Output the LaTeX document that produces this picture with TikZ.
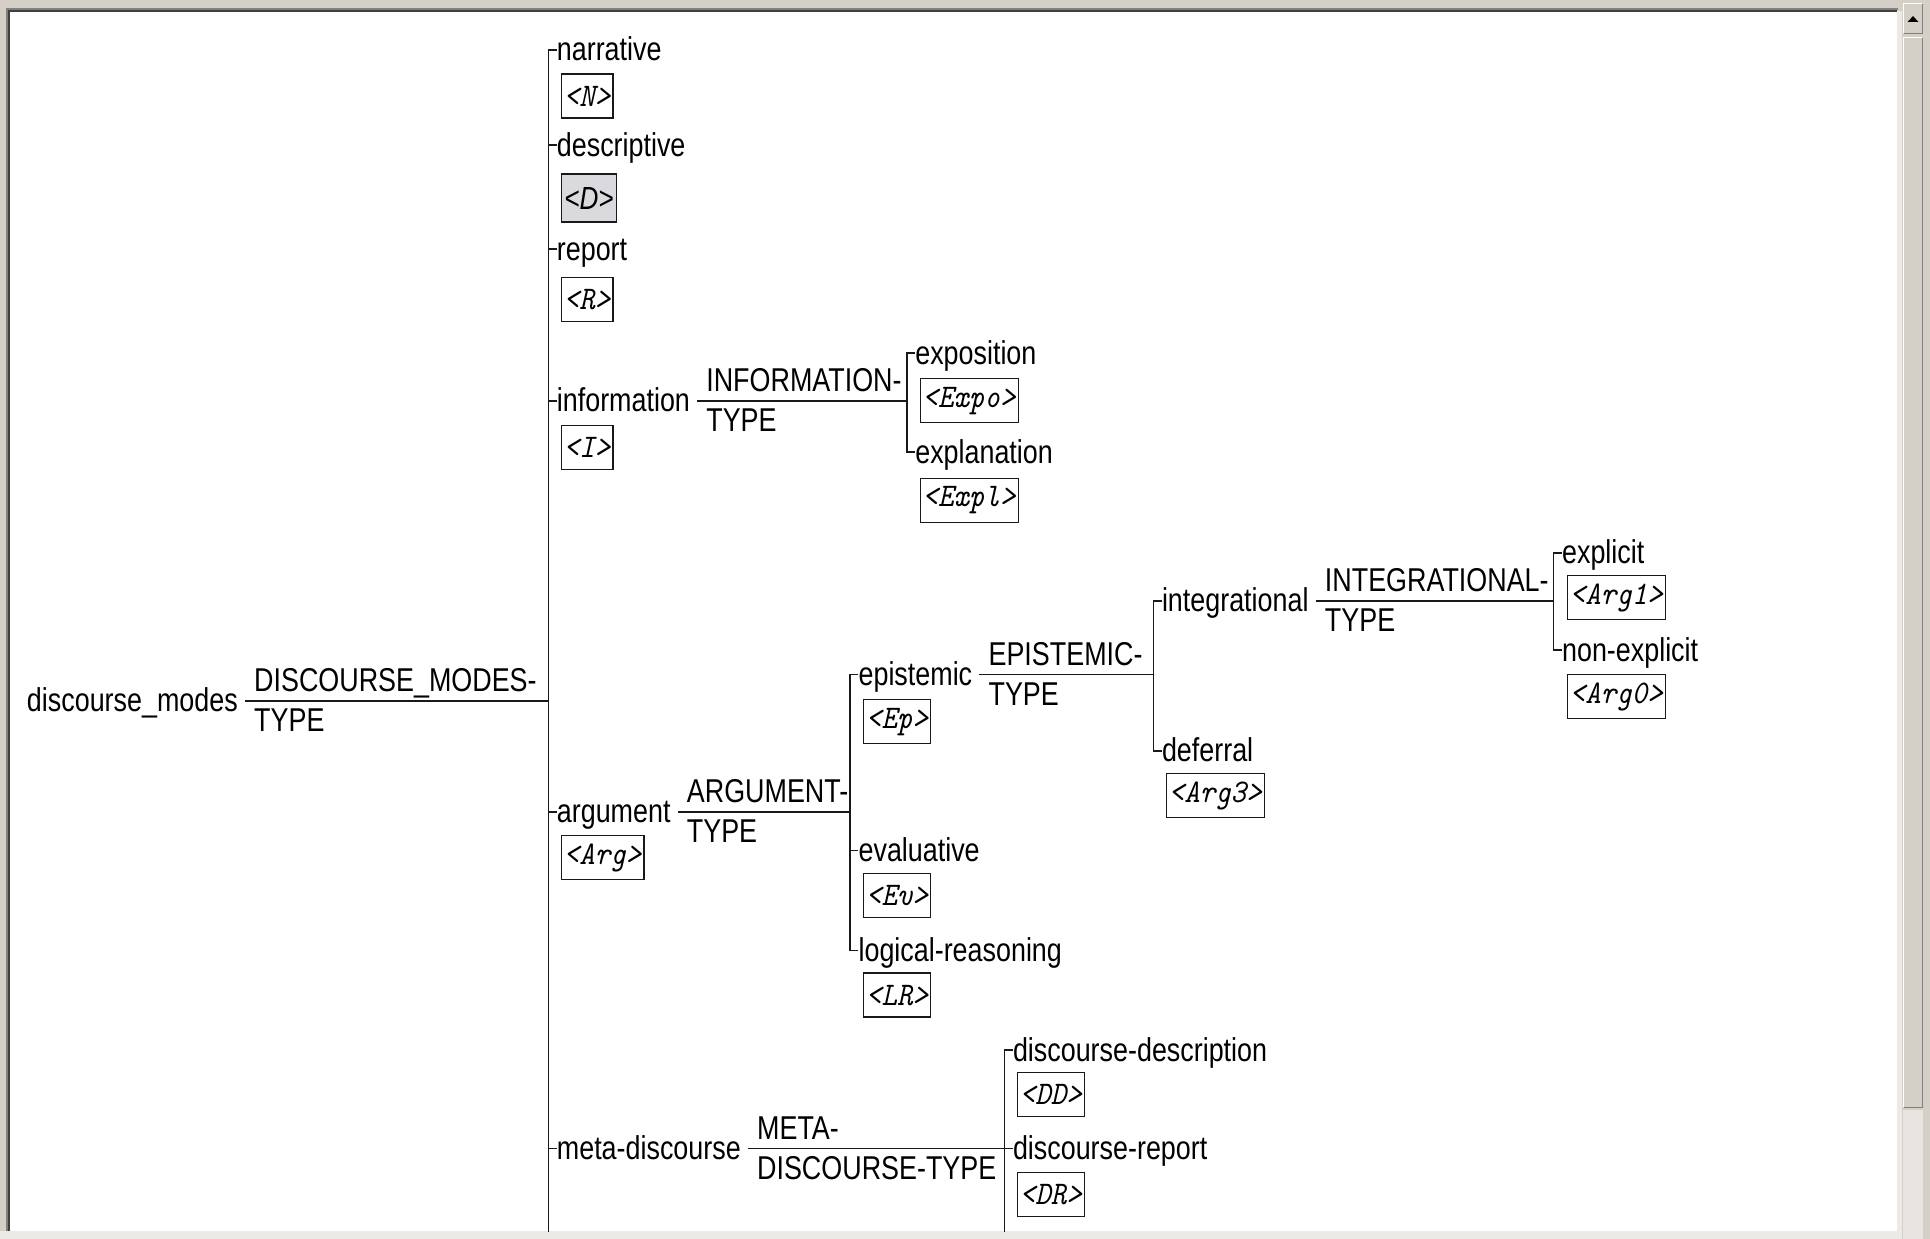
\documentclass[tikz,border=0pt]{standalone}
\usepackage{fontspec}
\newfontfamily\lblfont{Liberation Sans}[FakeStretch=0.815]
\newfontfamily\tagfnt{Latin Modern Mono}[FakeStretch=0.895]
\definecolor{wingrey}{RGB}{212,208,200}
\definecolor{selgrey}{RGB}{218,218,222}
\definecolor{linec}{RGB}{25,25,25}
\definecolor{darkedge}{RGB}{64,64,64}
\definecolor{midedge}{RGB}{128,128,128}
\definecolor{lightstrip}{RGB}{236,234,230}
\definecolor{trough}{RGB}{232,229,224}
\begin{document}
\begin{tikzpicture}[x=1pt,y=-1pt,
  lbl/.style={font=\lblfont\fontsize{33}{40}\selectfont, inner sep=0pt, anchor=base west},
  typelbl/.style={lbl, align=left},
  tagbox/.style={draw=linec, line width=1.4pt, font=\tagfnt\itshape\fontsize{33}{36}\selectfont,
    inner xsep=2.5pt, inner ysep=0pt, minimum height=44pt, anchor=north west, fill=white},
  selbox/.style={tagbox, fill=selgrey, font=\lblfont\itshape\fontsize{32}{36}\selectfont,
    minimum height=48pt, inner xsep=3pt},
  tree/.style={draw=linec, line width=1.6pt},
  btn/.style={fill=wingrey}
]
\useasboundingbox (0,0) rectangle (1930,1239);
% ---------- window frame ----------
\fill[wingrey] (0,0) rectangle (1930,1239);
\fill[lightstrip] (0,1231) rectangle (1902,1239);
\fill[lightstrip] (1897,11) rectangle (1902,1239);
\fill[white] (10,12) rectangle (1897,1231);
\draw[midedge, line width=1.2pt] (7,1231) -- (7,9) -- (1898,9);
\draw[darkedge, line width=1.6pt] (9.2,1231) -- (9.2,11.2) -- (1897,11.2);

% ---------- scrollbar ----------
\fill[btn] (1903,3) rectangle (1923,34);
\draw[white, line width=1.2pt] (1903.6,33.4) -- (1903.6,3.6) -- (1922.4,3.6);
\draw[midedge, line width=1.2pt] (1903.6,33.4) -- (1922.4,33.4) -- (1922.4,3.6);
\fill[black] (1907.5,22) -- (1918.5,22) -- (1913,16) -- cycle;
\fill[btn] (1903,37) rectangle (1923,1108);
\draw[white, line width=1.2pt] (1903.6,1107.4) -- (1903.6,37.6) -- (1922.4,37.6);
\draw[midedge, line width=1.2pt] (1903.6,1107.4) -- (1922.4,1107.4) -- (1922.4,37.6);
\fill[trough] (1903,1110) rectangle (1923,1239);

% ---------- tree ----------
\begin{scope}
\clip (10,12) rectangle (1897,1231);

% level 0
\node[lbl] (root) at (26.8,711.7) {discourse\_modes};
\coordinate (j0) at (548.3,700.7);
\draw[tree] ([shift={(7pt,11pt)}]root.base east) -- (j0);
\node[typelbl] (roottype) at ([shift={(16pt,-20pt)}]root.base east) {DISCOURSE\_MODES-\\TYPE};

% V0 children
\coordinate (v0n) at (548.3,50);
\coordinate (v0d) at (548.3,145);
\coordinate (v0r) at (548.3,249);
\coordinate (v0i) at (548.3,400.7);
\coordinate (v0a) at (548.3,811.7);
\coordinate (v0m) at (548.3,1148.4);
\coordinate (v0end) at (548.3,1245);

\node[lbl] (narrative) at ([shift={(8.4pt,-11pt)}]v0n) {narrative};
\node[lbl] (descriptive) at ([shift={(8.4pt,-11pt)}]v0d) {descriptive};
\node[lbl] (report) at ([shift={(8.4pt,-11pt)}]v0r) {report};
\node[lbl] (information) at ([shift={(8.4pt,-11pt)}]v0i) {information};
\node[lbl] (argument) at ([shift={(8.4pt,-11pt)}]v0a) {argument};
\node[lbl] (metadisc) at ([shift={(8.4pt,-11pt)}]v0m) {meta-discourse};

\node[tagbox] (tagN) at (560.7,73.3) {<N>};
\node[selbox] (tagD) at (560.7,173.3) {<D>};
\node[tagbox] (tagR) at (560.7,276.7) {<R>};
\node[tagbox] (tagI) at (560.7,425) {<I>};
\node[tagbox] (tagArg) at (560.7,835) {<Arg>};

\draw[tree] (narrative.base west |- v0n) -- (v0n) -- (v0end);
\draw[tree] (v0d) -- (descriptive.base west |- v0d);
\draw[tree] (v0r) -- (report.base west |- v0r);
\draw[tree] (v0i) -- (information.base west |- v0i);
\draw[tree] (v0a) -- (argument.base west |- v0a);
\draw[tree] (v0m) -- (metadisc.base west |- v0m);

% information subtree
\coordinate (jI) at (906.7,400.7);
\draw[tree] ([shift={(7pt,11pt)}]information.base east) -- (jI);
\node[typelbl] (infotype) at ([shift={(16pt,-20pt)}]information.base east) {INFORMATION-\\TYPE};
\coordinate (v1e) at (906.7,353);
\coordinate (v1x) at (906.7,452);
\node[lbl] (exposition) at ([shift={(8.4pt,-11pt)}]v1e) {exposition};
\node[lbl] (explanation) at ([shift={(8.4pt,-11pt)}]v1x) {explanation};
\node[tagbox] (tagExpo) at (919.5,377.9) {<Expo>};
\node[tagbox] (tagExpl) at (919.5,477.6) {<Expl>};
\draw[tree] (exposition.base west |- v1e) -- (v1e) -- (v1x) -- (explanation.base west |- v1x);

% argument subtree
\coordinate (jA) at (850,811.7);
\draw[tree] ([shift={(7pt,11pt)}]argument.base east) -- (jA);
\node[typelbl] (argtype) at ([shift={(16pt,-20pt)}]argument.base east) {ARGUMENT-\\TYPE};
\coordinate (v2e) at (850,674.5);
\coordinate (v2v) at (850,850.5);
\coordinate (v2l) at (850,950.3);
\node[lbl] (epistemic) at ([shift={(8.4pt,-11pt)}]v2e) {epistemic};
\node[lbl] (evaluative) at ([shift={(8.4pt,-11pt)}]v2v) {evaluative};
\node[lbl] (logical) at ([shift={(8.4pt,-11pt)}]v2l) {logical-reasoning};
\node[tagbox] (tagEp) at (862.9,699) {<Ep>};
\node[tagbox] (tagEv) at (862.9,872.7) {<Ev>};
\node[tagbox] (tagLR) at (862.9,972.4) {<LR>};
\draw[tree] (epistemic.base west |- v2e) -- (v2e) -- (v2l) -- (logical.base west |- v2l);
\draw[tree] (v2v) -- (evaluative.base west |- v2v);

% epistemic subtree
\coordinate (jE) at (1153.4,674.5);
\draw[tree] ([shift={(7pt,11pt)}]epistemic.base east) -- (jE);
\node[typelbl] (eptype) at ([shift={(16pt,-20pt)}]epistemic.base east) {EPISTEMIC-\\TYPE};
\coordinate (v3i) at (1153.4,600.7);
\coordinate (v3d) at (1153.4,750.8);
\node[lbl] (integrational) at ([shift={(8.4pt,-11pt)}]v3i) {integrational};
\node[lbl] (deferral) at ([shift={(8.4pt,-11pt)}]v3d) {deferral};
\node[tagbox] (tagArgIII) at (1165.7,773) {<Arg3>};
\draw[tree] (integrational.base west |- v3i) -- (v3i) -- (v3d) -- (deferral.base west |- v3d);

% integrational subtree
\coordinate (jIn) at (1553.5,600.7);
\draw[tree] ([shift={(7pt,11pt)}]integrational.base east) -- (jIn);
\node[typelbl] (inttype) at ([shift={(16pt,-20pt)}]integrational.base east) {INTEGRATIONAL-\\TYPE};
\coordinate (v4e) at (1553.5,552.7);
\coordinate (v4n) at (1553.5,650);
\node[lbl] (explicit) at ([shift={(8.4pt,-11pt)}]v4e) {explicit};
\node[lbl] (nonexplicit) at ([shift={(8.4pt,-11pt)}]v4n) {non-explicit};
\node[tagbox] (tagArgI) at (1566.7,575) {<Arg1>};
\node[tagbox] (tagArgO) at (1566.7,674) {<Arg0>};
\draw[tree] (explicit.base west |- v4e) -- (v4e) -- (v4n) -- (nonexplicit.base west |- v4n);

% meta-discourse subtree
\coordinate (jM) at (1004.4,1148.4);
\draw[tree] ([shift={(7pt,11pt)}]metadisc.base east) -- (jM);
\node[typelbl] (metatype) at ([shift={(16pt,-20pt)}]metadisc.base east) {META-\\DISCOURSE-TYPE};
\coordinate (v5d) at (1004.4,1050);
\coordinate (v5r) at (1004.4,1148.4);
\coordinate (v5end) at (1004.4,1245);
\node[lbl] (ddesc) at ([shift={(8.4pt,-11pt)}]v5d) {discourse-description};
\node[lbl] (drep) at ([shift={(8.4pt,-11pt)}]v5r) {discourse-report};
\node[tagbox] (tagDD) at (1016.7,1072) {<DD>};
\node[tagbox] (tagDR) at (1016.7,1171.8) {<DR>};
\draw[tree] (ddesc.base west |- v5d) -- (v5d) -- (v5end);
\draw[tree] (v5r) -- (drep.base west |- v5r);
\end{scope}
\end{tikzpicture}
\end{document}
